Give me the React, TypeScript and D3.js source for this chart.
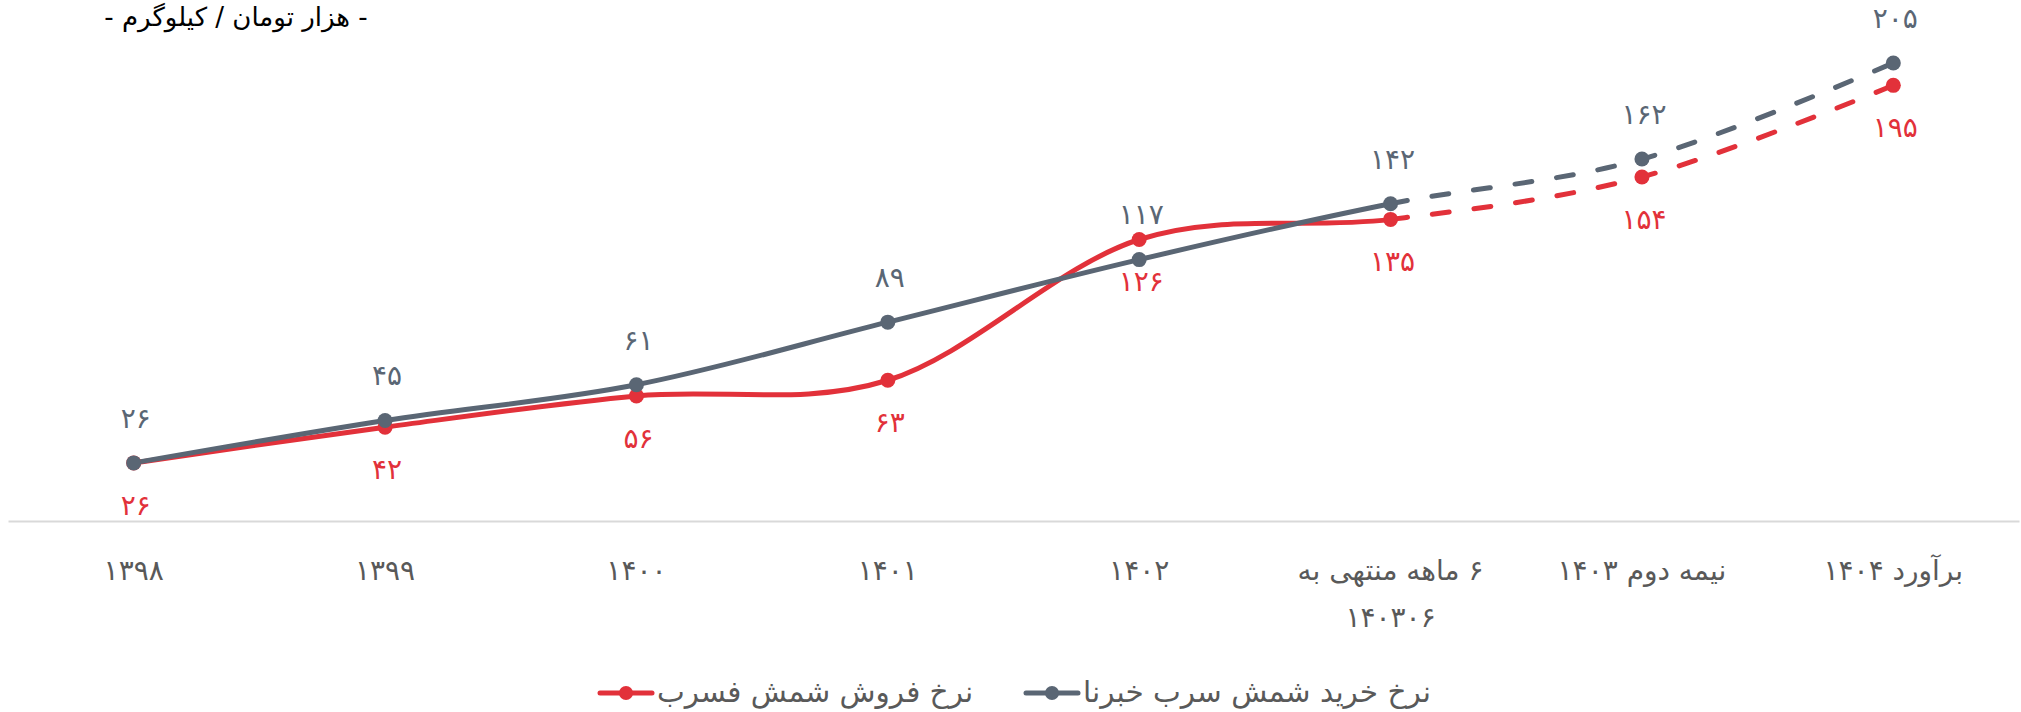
import React, { useRef, useEffect } from "react";
import * as d3 from "d3";

// category labels (a "\n" breaks the tick into two lines)
const categories = [
  "۱۳۹۸",
  "۱۳۹۹",
  "۱۴۰۰",
  "۱۴۰۱",
  "۱۴۰۲",
  "۶ ماهه منتهی به\n۱۴۰۳۰۶",
  "نیمه دوم ۱۴۰۳",
  "برآورد ۱۴۰۴",
];
const buyValues = [26, 45, 61, 89, 117, 142, 162, 205]; // نرخ خرید شمش سرب خبرنا
const sellValues = [26, 42, 56, 63, 126, 135, 154, 195]; // نرخ فروش شمش فسرب
const seriesNames = ["نرخ خرید شمش سرب خبرنا", "نرخ فروش شمش فسرب"];
const forecastFrom = 5; // the line is dashed from this category on
const unitLabel = "- هزار تومان / کیلوگرم -";

const GRAY = "#5a6674";
const RED = "#e2313a";
const TEXT = "#595959";
const FONT = "'DejaVu Sans', sans-serif";

const toFa = (n: number) => String(n).replace(/\d/g, (d) => "۰۱۲۳۴۵۶۷۸۹"[+d]);

const App = () => {
  const ref = useRef<SVGSVGElement>(null);

  useEffect(() => {
    const svg = d3.select(ref.current);
    svg.selectAll("*").remove();

    const x = d3.scaleBand<string>().domain(categories).range([8, 2019]).padding(0);
    const cx = (i: number) => (x(categories[i]) as number) + x.bandwidth() / 2;
    const y = d3.scaleLinear().domain([0, 205]).range([521, 63]);

    // unit label
    svg
      .append("text")
      .attr("x", 236)
      .attr("y", 26)
      .attr("direction", "rtl")
      .attr("text-anchor", "middle")
      .attr("font-family", FONT)
      .attr("font-size", 26)
      .attr("fill", "#000")
      .text(unitLabel);

    // x axis
    const axis = svg
      .append("g")
      .attr("transform", "translate(0,521)")
      .call(d3.axisBottom(x).tickSize(0).tickSizeOuter(0).tickPadding(0));
    axis.select(".domain").attr("stroke", "#d9d9d9").attr("stroke-width", 2);
    axis
      .selectAll<SVGTextElement, string>(".tick text")
      .attr("font-family", FONT)
      .attr("font-size", 28)
      .attr("fill", TEXT)
      .attr("direction", "rtl")
      .attr("dy", null)
      .attr("y", null)
      .each(function (d) {
        const t = d3.select(this);
        t.text(null);
        d.split("\n").forEach((line, k) => {
          t.append("tspan").attr("x", 0).attr("y", 59 + k * 47).text(line);
        });
      });

    const line = d3
      .line<number>()
      .x((_, i) => cx(i))
      .y((d) => y(d))
      .curve(d3.curveCardinal.tension(0));

    const series = [
      { values: sellValues, color: RED, above: false },
      { values: buyValues, color: GRAY, above: true },
    ];

    series.forEach((s) => {
      const d = line(s.values) as string;
      const solid = svg
        .append("path")
        .attr("d", d)
        .attr("fill", "none")
        .attr("stroke", s.color)
        .attr("stroke-width", 5)
        .attr("stroke-linecap", "round");
      const node = solid.node() as SVGPathElement;
      const total = node.getTotalLength();
      const xs = cx(forecastFrom);
      let lo = 0;
      let hi = total;
      for (let k = 0; k < 40; k++) {
        const mid = (lo + hi) / 2;
        if (node.getPointAtLength(mid).x < xs) lo = mid;
        else hi = mid;
      }
      const split = lo;
      solid.attr("stroke-dasharray", `${split} ${total}`);

      const dashes: number[] = [0, split];
      let sum = split;
      while (sum < total + 50) {
        dashes.push(17, 25);
        sum += 42;
      }
      svg
        .append("path")
        .attr("d", d)
        .attr("fill", "none")
        .attr("stroke", s.color)
        .attr("stroke-width", 5)
        .attr("stroke-linecap", "round")
        .attr("stroke-dasharray", dashes.join(" "));
    });

    series.forEach((s) => {
      svg
        .append("g")
        .selectAll("circle")
        .data(s.values)
        .join("circle")
        .attr("cx", (_, i) => cx(i))
        .attr("cy", (d) => y(d))
        .attr("r", 7.5)
        .attr("fill", s.color);
    });

    series.forEach((s) => {
      svg
        .append("g")
        .selectAll("text")
        .data(s.values)
        .join("text")
        .attr("x", (_, i) => cx(i) + 2)
        .attr("y", (d) => y(d) + (s.above ? -45 : 42))
        .attr("dy", "0.35em")
        .attr("text-anchor", "middle")
        .attr("font-family", FONT)
        .attr("font-size", 28)
        .attr("fill", s.color)
        .text((d) => toFa(d));
    });

    // legend
    const legend = [
      { name: seriesNames[1], color: RED, x0: 598 },
      { name: seriesNames[0], color: GRAY, x0: 1024 },
    ];
    legend.forEach((l) => {
      const g = svg.append("g").attr("transform", `translate(${l.x0},693)`);
      g.append("line")
        .attr("x1", 2)
        .attr("x2", 54)
        .attr("stroke", l.color)
        .attr("stroke-width", 5)
        .attr("stroke-linecap", "round");
      g.append("circle").attr("cx", 28).attr("r", 7).attr("fill", l.color);
      g.append("text")
        .attr("x", 59)
        .attr("dy", "0.3em")
        .attr("direction", "rtl")
        .attr("text-anchor", "end")
        .attr("font-family", FONT)
        .attr("font-size", 29.5)
        .attr("fill", TEXT)
        .text(l.name);
    });
  }, []);

  return (
    <svg
      ref={ref}
      width={2021}
      height={712}
      style={{ position: "absolute", left: 0, top: 0, background: "#fff" }}
    />
  );
};

export default App;
